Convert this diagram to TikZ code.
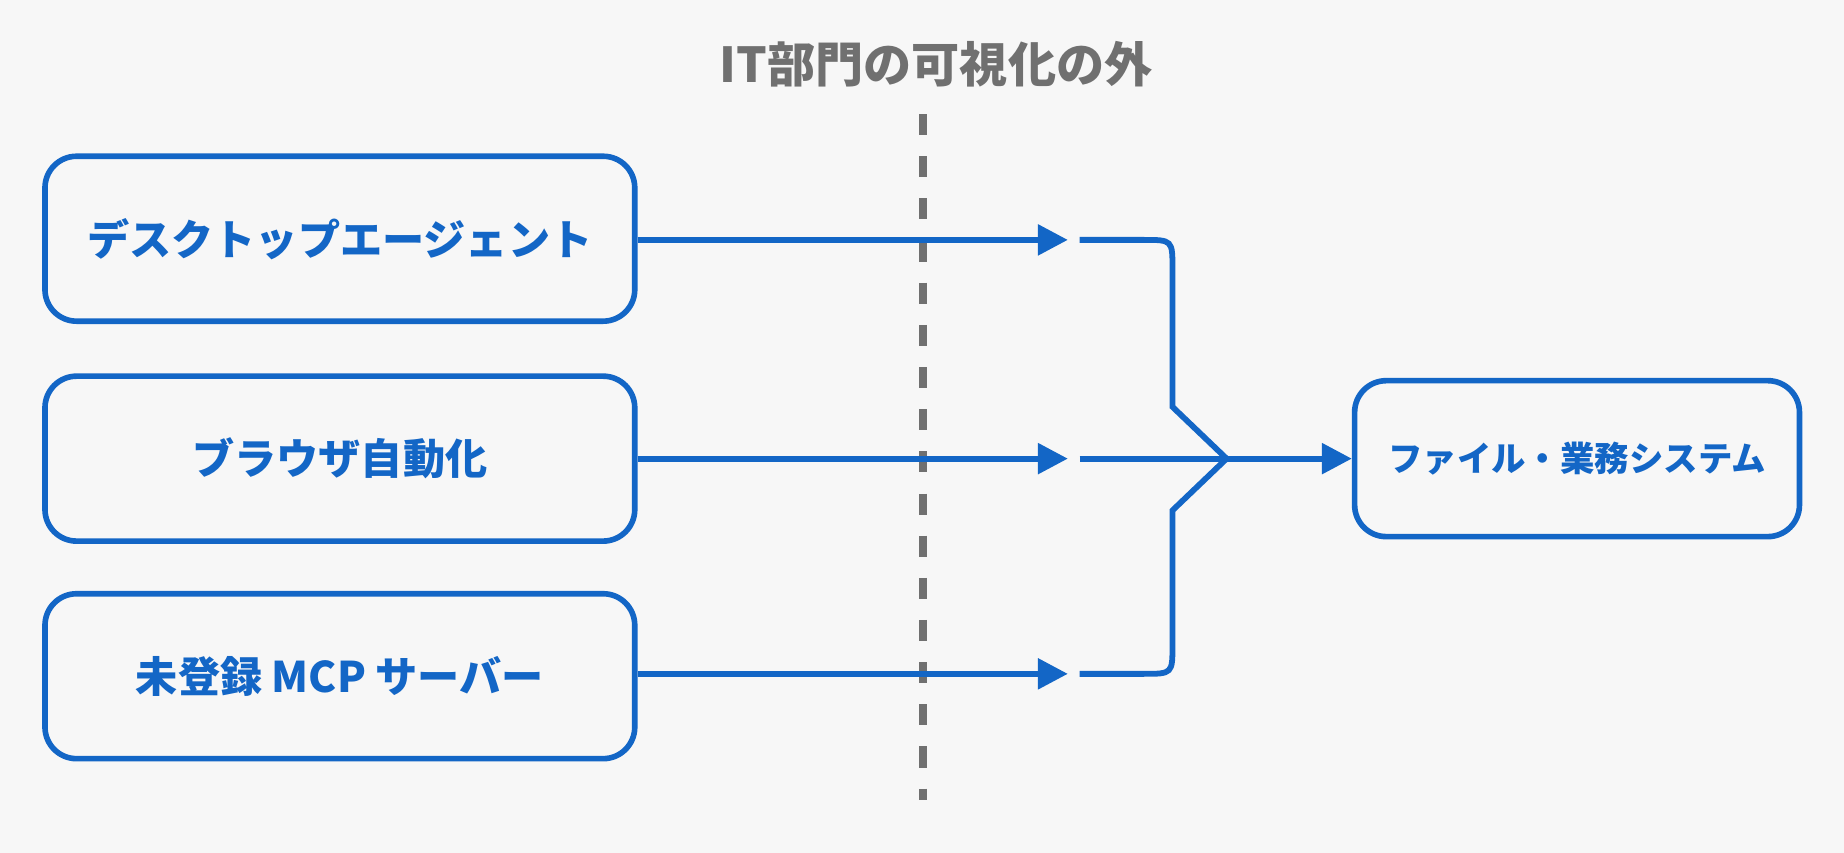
\documentclass[tikz,border=0pt]{standalone}
\usepackage{fontspec}
\setmainfont{Noto Sans CJK JP}
\usetikzlibrary{arrows.meta,positioning}
\definecolor{flowblue}{HTML}{1366C6}
\definecolor{sepgray}{HTML}{707070}
\begin{document}
\begin{tikzpicture}[x=0.01176cm,y=-0.01176cm,
  src/.style={draw=flowblue,line width=1.6pt,rounded corners=9pt,minimum width=5.9cm,minimum height=1.65cm,
    text=flowblue,font=\bfseries\fontsize{12}{14}\selectfont},
  flow/.style={flowblue,line width=1.65pt},
  tip/.style={-{Triangle[length=8.5pt,width=8.5pt]}}]
\fill[white!97!black] (0,0) rectangle (1568,725);
% source boxes
\node[src] (desk) at (289,203) {デスクトップエージェント};
\node[src] (brow) at (289,390) {ブラウザ自動化};
\node[src] (mcp) at (289,575) {未登録 MCP サーバー};
\node[src,minimum width=4.45cm,minimum height=1.56cm,font=\bfseries\fontsize{9.8}{12}\selectfont] (sys) at (1341,390) {ファイル・業務システム};
% visibility boundary
\node[text=sepgray,font=\bfseries\fontsize{13.7}{16}\selectfont] (title) at (796,55) {IT部門の可視化の外};
\coordinate (vtop) at (785,97);
\coordinate (vbot) at (785,680);
\draw[sepgray,line width=2.1pt,dash pattern=on 6pt off 6pt] (vtop) -- (vbot);
% arrows across the boundary
\foreach \n/\y in {desk/204,brow/390,mcp/573}{
  \coordinate (t\n) at (908,\y);
  \coordinate (s\n) at (918,\y);
  \draw[flow,tip] (\n.east |- t\n) -- (t\n);
}
% merge
\coordinate (merge) at (1043,390);
\draw[flow] (sdesk) -- (972,204) .. controls (997,204) .. (997,229) -- (997,346) -- (merge);
\draw[flow] (smcp) -- (972,573) .. controls (997,573) .. (997,548) -- (997,434) -- (merge);
\draw[flow] (sbrow) -- (merge);
\draw[flow,tip] (merge) -- (merge -| sys.west);
\end{tikzpicture}
\end{document}
